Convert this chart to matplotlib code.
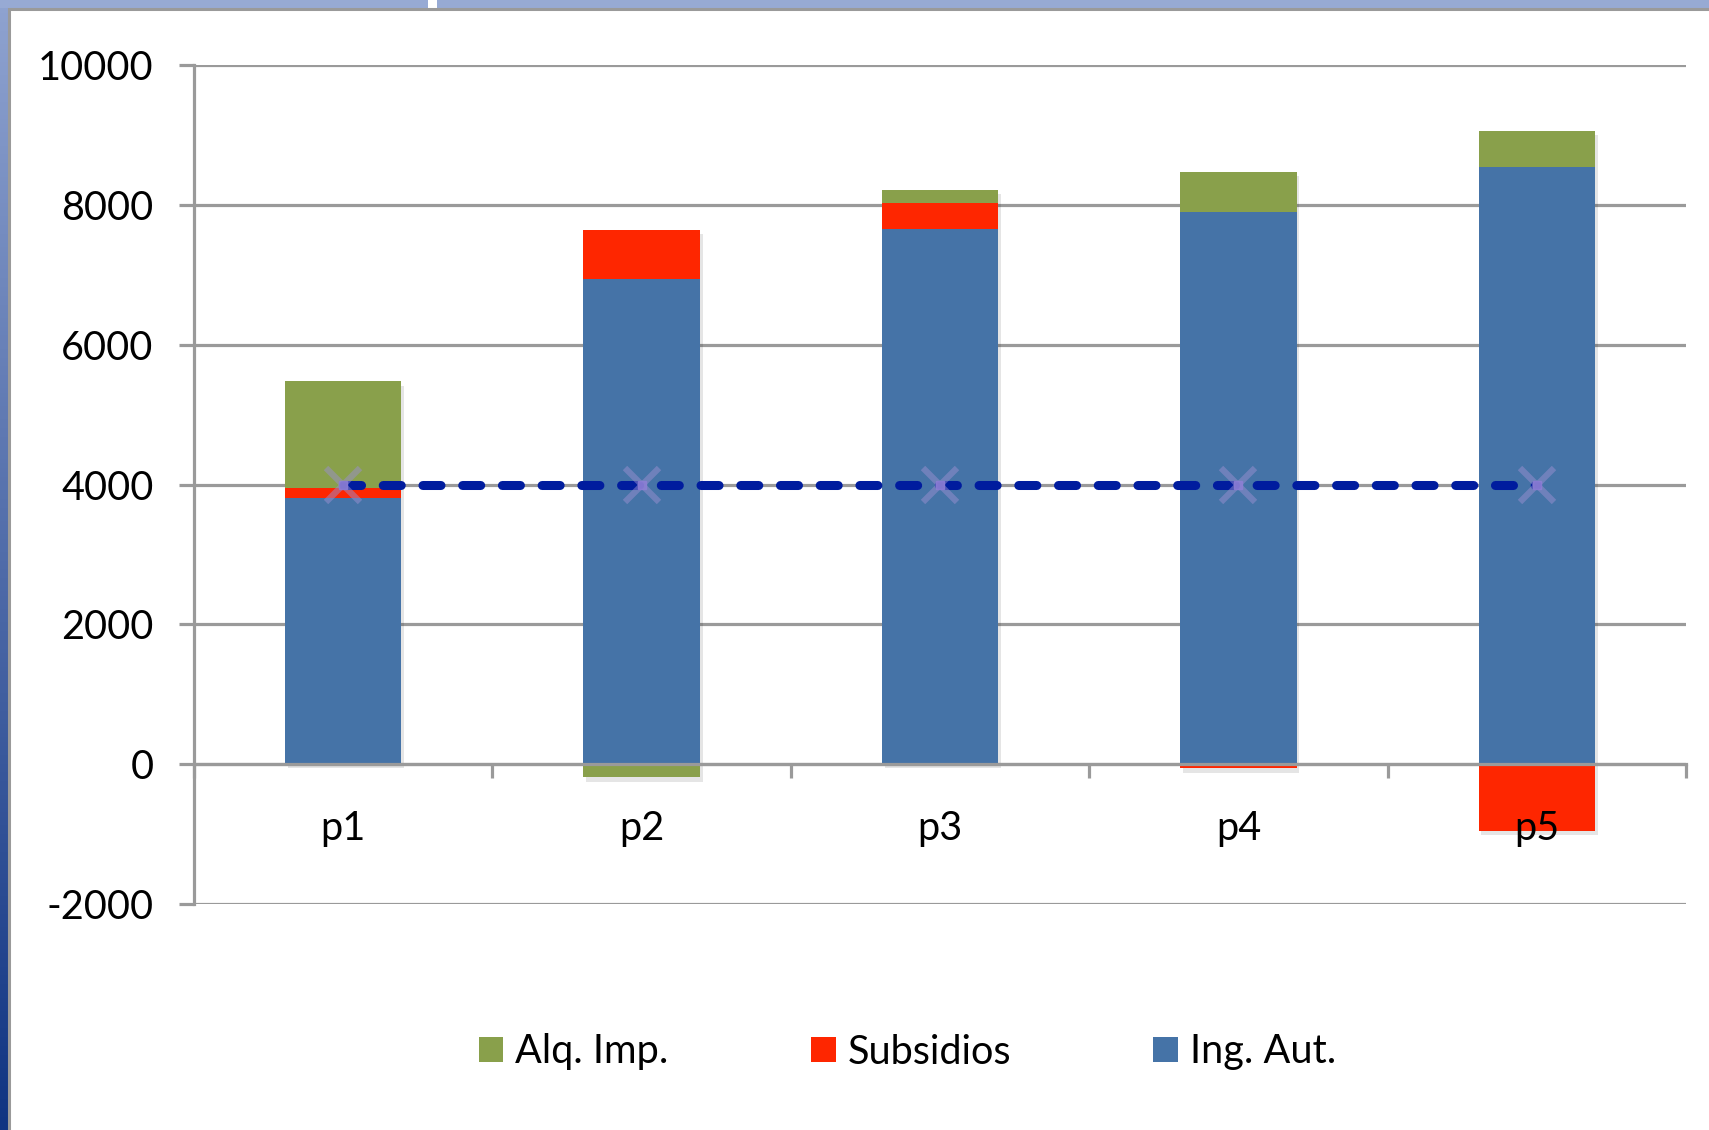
import numpy as np
import matplotlib
matplotlib.use("Agg")
import matplotlib.pyplot as plt
from matplotlib.patches import Rectangle
import matplotlib.patheffects as pe


# ─── DATA ───

categories = ["p1", "p2", "p3", "p4", "p5"]
ing_aut = [3800, 6940, 7650, 7900, 8540]
subsidios = [150, 700, 375, -60, -950]
alq_imp = [1525, -190, 185, 575, 515]
reference_line = [4000, 4000, 4000, 4000, 4000]

y_ticks = [-2000, 0, 2000, 4000, 6000, 8000, 10000]

series = [
    ("Ing. Aut.", ing_aut, "#4573a7"),
    ("Subsidios", subsidios, "#fe2600"),
    ("Alq. Imp.", alq_imp, "#89a04b"),
]


# ─── FIGURE ───

plt.rcParams["font.family"] = ["Lato", "DejaVu Sans"]
FS = 28.5

W, H = 1709, 1130
fig = plt.figure(figsize=(W / 100, H / 100), dpi=100)

# slide-style frame: blue strips on top/left, grey border
bg = fig.add_axes([0, 0, 1, 1], zorder=-10)
bg.axis("off")
grad = np.linspace(0, 1, 256)[:, None, None]
top_c = np.array([0x8f, 0xa3, 0xd0]) / 255
bot_c = np.array([0x10, 0x34, 0x82]) / 255
bg.imshow(top_c + grad * (bot_c - top_c), extent=[0, 8, H, 0], aspect="auto")
bg.add_patch(Rectangle((0, 0), W, 8, color="#97aad4", lw=0))
bg.add_patch(Rectangle((428, 0), 9, 8, color="white", lw=0))
bg.add_patch(Rectangle((8.5, 8.5), W, H, facecolor="white", edgecolor="#9a9a9a", lw=2.2))
bg.set_xlim(0, W)
bg.set_ylim(H, 0)

ax = fig.add_axes([194 / W, 1 - 904 / H, (1686 - 194) / W, (904 - 65) / H])
ax.set_facecolor("none")

x = np.arange(len(categories))
width = 0.39

# soft shadow behind each column
pos_tot = np.zeros(len(x))
neg_tot = np.zeros(len(x))
for _, vals, _ in series:
    v = np.array(vals, dtype=float)
    pos_tot += np.where(v > 0, v, 0)
    neg_tot += np.where(v < 0, v, 0)
ax.bar(x, pos_tot - neg_tot, width, bottom=neg_tot, color="white", zorder=1,
       path_effects=[pe.withSimplePatchShadow(offset=(2, -3), shadow_rgbFace="k", alpha=0.1)])

pos_cum = np.zeros(len(x))
neg_cum = np.zeros(len(x))
handles = {}
for label, vals, color in series:
    v = np.array(vals, dtype=float)
    bottom = np.where(v >= 0, pos_cum, neg_cum)
    handles[label] = ax.bar(x, v, width, bottom=bottom, color=color, label=label, zorder=1.5)
    pos_cum += np.where(v > 0, v, 0)
    neg_cum += np.where(v < 0, v, 0)

# dashed reference line with x markers
ax.plot(x, reference_line, color="#001c9e", lw=6.5, dashes=(2.0, 2.4),
        dash_capstyle="round", zorder=3)
ax.plot(x, reference_line, ls="none", marker="x", markersize=24, mew=4.5,
        color="#9a8fd0", alpha=0.5, zorder=4)
ax.plot(x, reference_line, ls="none", marker="s", markersize=6,
        color="#8f7fd6", alpha=0.8, zorder=4)

# axes styling
grey = "#9a9a9a"
ax.set_xlim(-0.5, len(categories) - 0.5)
ax.set_ylim(-2000, 10000)
ax.set_yticks(y_ticks)
ax.set_yticklabels([str(t) for t in y_ticks], fontsize=FS)
ax.yaxis.grid(True, color=grey, lw=2.3)
ax.set_axisbelow(True)
ax.xaxis.set_zorder(5)

ax.spines["bottom"].set_position(("data", 0))
for s in ["bottom", "left"]:
    ax.spines[s].set_color(grey)
    ax.spines[s].set_linewidth(2.3)
ax.spines["top"].set_visible(False)
ax.spines["right"].set_visible(False)

ax.set_xticks(x)
ax.set_xticklabels(categories, fontsize=FS)
ax.set_xticks(np.arange(len(categories) + 1) - 0.5, minor=True)
ax.tick_params(axis="x", which="major", length=0, pad=33)
ax.tick_params(axis="x", which="minor", length=10, width=2.3, color=grey, direction="out")
ax.tick_params(axis="y", length=11, width=2.3, color=grey, pad=18)

order = ["Alq. Imp.", "Subsidios", "Ing. Aut."]
fig.legend([handles[k] for k in order], order, loc="center",
           bbox_to_anchor=(0.531, 1 - 1052 / H), ncol=3, frameon=False,
           fontsize=FS, handlelength=0.62, handleheight=0.62,
           handletextpad=0.3, columnspacing=3.6)

fig.savefig("out.png", dpi=100)
